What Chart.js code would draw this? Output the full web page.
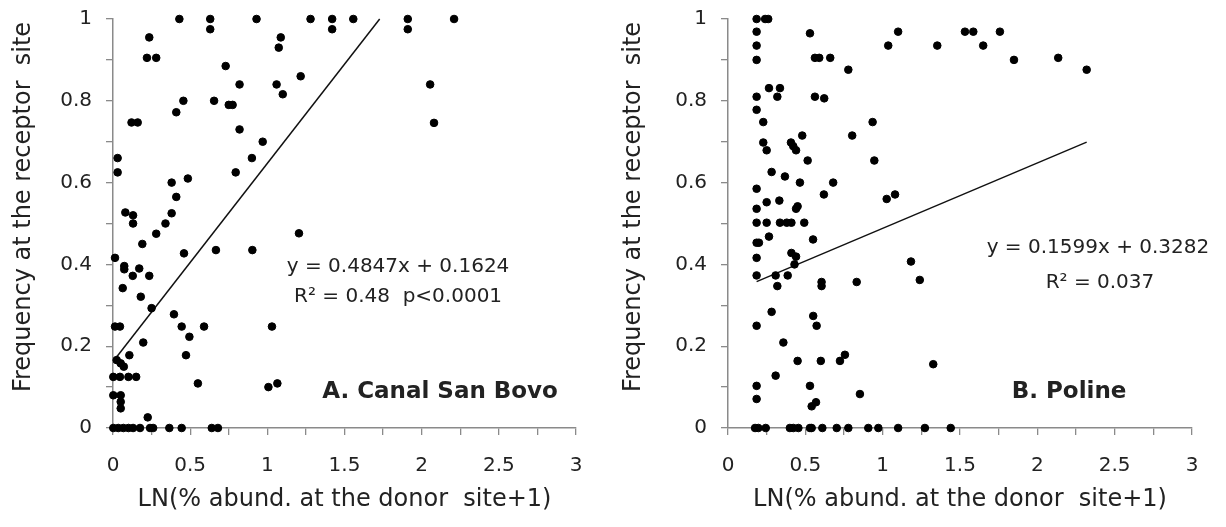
<!DOCTYPE html>
<html>
<head>
<meta charset="utf-8">
<script src="https://cdn.jsdelivr.net/npm/chart.js@4.4.1/dist/chart.umd.min.js"></script>
<style>
    html, body { margin: 0; padding: 0; background: #fff; }
    #wrap { position: relative; width: 1226px; height: 527px; }
    .panel { position: absolute; top: 0; width: 613px; height: 527px; }
    #left  { left: 0; }
    #right { left: 613px; }
</style>
</head>
<body>
<div id="wrap">
    <div class="panel" id="left"><canvas id="chartA" width="613" height="527"></canvas></div>
    <div class="panel" id="right"><canvas id="chartB" width="613" height="527"></canvas></div>
</div>
<script>
// ── Data: A. Canal San Bovo ────────────────────────────────────────────────
const canalX = [
    0.43, 0.63, 0.63, 0.93, 1.28, 1.42, 1.42, 1.557, 1.91, 1.91, 2.21, 2.055, 2.08,
    0.235, 0.22, 0.28, 1.087, 1.074, 0.73, 0.82, 1.06, 1.10, 1.216, 0.456, 0.41,
    0.655, 0.75, 0.775, 0.12, 0.16, 0.82, 0.97, 0.03, 0.03, 0.90, 0.795, 0.38, 0.41,
    0.485, 0.38, 0.08, 0.13, 0.13, 0.34, 0.28, 0.19, 1.205, 0.013, 0.46, 0.667,
    0.903, 0.073, 0.073, 0.128, 0.17, 0.235, 0.063, 0.18, 0.25, 0.395, 0.445, 0.495,
    0.59, 1.03, 0.013, 0.045, 0.196, 0.473, 0.106, 0.024, 0.05, 0.07, 0.002, 0.045,
    0.10, 0.15, 0.55, 1.007, 1.065, 0.002, 0.05, 0.05, 0.05, 0.225,
    0.002, 0.034, 0.067, 0.10, 0.13, 0.175, 0.24, 0.26, 0.365, 0.445, 0.64, 0.68,
];
const canalY = [
    1, 1, 0.975, 1, 1, 1, 0.975, 1, 1, 0.975, 1, 0.84, 0.746,
    0.955, 0.905, 0.905, 0.955, 0.93, 0.885, 0.84, 0.84, 0.816, 0.86, 0.80, 0.772,
    0.80, 0.79, 0.79, 0.747, 0.747, 0.73, 0.70, 0.66, 0.625, 0.66, 0.625, 0.60, 0.565,
    0.61, 0.525, 0.527, 0.52, 0.50, 0.50, 0.475, 0.45, 0.476, 0.416, 0.427, 0.435,
    0.435, 0.396, 0.388, 0.372, 0.39, 0.372, 0.342, 0.321, 0.293, 0.278, 0.248, 0.223,
    0.248, 0.248, 0.248, 0.248, 0.209, 0.178, 0.178, 0.166, 0.158, 0.15, 0.125, 0.125,
    0.125, 0.125, 0.109, 0.10, 0.109, 0.08, 0.08, 0.064, 0.048, 0.026,
    0, 0, 0, 0, 0, 0, 0, 0, 0, 0, 0, 0,
];
const canalSlope = 0.4847;
const canalIntercept = 0.1624;
const canalFitX = [0.002, 1.728];

// ── Data: B. Poline ────────────────────────────────────────────────────────
const polineX = [
    0.185, 0.24, 0.26, 0.185, 0.185, 0.185, 0.53, 1.10, 1.036, 1.353,
    0.562, 0.59, 0.661, 0.778, 0.265, 0.336, 0.319, 0.185, 0.562, 0.622,
    0.185, 0.228, 0.935, 0.228, 0.25, 0.407, 0.422, 0.44, 0.48, 0.803,
    0.515, 0.946, 0.282, 0.368, 0.465, 0.68, 0.185, 0.62, 1.026, 1.08,
    0.25, 0.332, 0.185, 0.44, 0.45, 0.185, 0.25, 0.336, 0.38, 0.41, 0.493,
    0.265, 0.55, 0.185, 0.2, 0.41, 0.44, 0.185, 0.43, 0.185, 0.308, 0.386,
    0.319, 0.605, 0.605, 0.832, 1.183, 1.24, 0.282, 0.551, 0.573, 0.185,
    0.358, 0.45, 0.60, 0.724, 0.756, 1.327, 0.308, 0.185, 0.185, 0.53,
    0.853, 0.541, 0.569,
    0.175, 0.196, 0.244, 0.40, 0.422, 0.455, 0.53, 0.541, 0.61, 0.703,
    0.778, 0.907, 0.972, 1.10, 1.273, 1.44,
    1.532, 1.586, 1.65, 1.758, 1.849, 2.135, 2.319,
];
const polineY = [
    1, 1, 1, 0.969, 0.935, 0.90, 0.965, 0.969, 0.935, 0.935,
    0.905, 0.905, 0.905, 0.876, 0.831, 0.831, 0.81, 0.81, 0.81, 0.806,
    0.778, 0.748, 0.748, 0.698, 0.679, 0.698, 0.689, 0.679, 0.715, 0.715,
    0.654, 0.654, 0.626, 0.615, 0.60, 0.60, 0.585, 0.571, 0.56, 0.571,
    0.552, 0.556, 0.536, 0.536, 0.542, 0.502, 0.502, 0.502, 0.502, 0.502, 0.502,
    0.468, 0.461, 0.453, 0.453, 0.428, 0.419, 0.416, 0.40, 0.373, 0.373, 0.373,
    0.347, 0.357, 0.347, 0.357, 0.407, 0.362, 0.284, 0.274, 0.25, 0.25,
    0.209, 0.164, 0.164, 0.164, 0.179, 0.156, 0.128, 0.103, 0.071, 0.103,
    0.083, 0.053, 0.063,
    0, 0, 0, 0, 0, 0, 0, 0, 0, 0,
    0, 0, 0, 0, 0, 0,
    0.969, 0.969, 0.935, 0.969, 0.90, 0.905, 0.876,
];
const polineSlope = 0.1599;
const polineIntercept = 0.3282;
const polineFitX = [0.185, 2.319];

// Axis ticks
const xTickStep = 0.25;   // tick marks; labels every 0.5
const yTickStep = 0.1;    // tick marks; labels every 0.2

const TEXT = '#222222';
const AXIS = '#8a8a8a';
const FONT = '"DejaVu Sans", "Liberation Sans", sans-serif';

function toPoints(xs, ys) {
    return xs.map((x, i) => ({ x, y: ys[i] }));
}

function fitPoints(fitX, slope, intercept) {
    return fitX.map(x => ({ x, y: slope * x + intercept }));
}

function isMultiple(v, step) {
    const r = v / step;
    return Math.abs(r - Math.round(r)) < 1e-6;
}

/**
 * Draws free text (trend equations, panel title, axis titles) at data
 * coordinates or canvas coordinates.
 */
const notesPlugin = {
    id: 'notes',
    afterDraw(chart, args, opts) {
        const ctx = chart.ctx;
        const { x: xs, y: ys } = chart.scales;
        ctx.save();
        ctx.fillStyle = TEXT;
        ctx.textAlign = 'center';
        ctx.textBaseline = 'middle';
        (opts.items || []).forEach(n => {
            ctx.font = n.font;
            ctx.fillText(n.text, xs.getPixelForValue(n.x), ys.getPixelForValue(n.y));
        });
        // axis titles
        const a = chart.chartArea;
        ctx.font = opts.titleFont;
        ctx.fillText(opts.xTitle, (a.left + a.right) / 2, opts.xTitleY);
        ctx.translate(opts.yTitleX, opts.yTitleY);
        ctx.rotate(-Math.PI / 2);
        ctx.fillText(opts.yTitle, 0, 0);
        ctx.restore();
    },
};

function makePanel(canvasId, cfg) {
    const tickFont = { family: FONT, size: 20 };
    return new Chart(document.getElementById(canvasId), {
        type: 'scatter',
        data: {
            datasets: [
                {
                    data: toPoints(cfg.xs, cfg.ys),
                    backgroundColor: '#000',
                    borderColor: '#000',
                    pointRadius: 3.8,
                    pointHoverRadius: 3.8,
                    clip: false,
                },
                {
                    data: fitPoints(cfg.fitX, cfg.slope, cfg.intercept),
                    showLine: true,
                    borderColor: '#111',
                    borderWidth: 1.5,
                    pointRadius: 0,
                    fill: false,
                    clip: false,
                },
            ],
        },
        options: {
            responsive: false,
            animation: false,
            events: [],
            layout: { padding: { top: 19, right: cfg.padRight, bottom: 0, left: 0 } },
            plugins: {
                legend: { display: false },
                tooltip: { enabled: false },
                notes: {
                    items: cfg.notes,
                    titleFont: `24px ${FONT}`,
                    xTitle: 'LN(% abund. at the donor  site+1)',
                    xTitleY: 500,
                    yTitle: 'Frequency at the receptor  site',
                    yTitleX: cfg.yTitleX,
                    yTitleY: 207,
                },
            },
            scales: {
                x: {
                    type: 'linear',
                    min: 0,
                    max: 3,
                    afterFit: s => { s.height = 99; },
                    border: { color: AXIS, width: 1.5 },
                    grid: { drawOnChartArea: false, drawTicks: true, tickLength: 7, color: AXIS, lineWidth: 1.3 },
                    ticks: {
                        stepSize: xTickStep,
                        autoSkip: false,
                        maxRotation: 0,
                        padding: 19,
                        color: TEXT,
                        font: tickFont,
                        callback: v => isMultiple(v, 0.5) ? String(Math.round(v * 10) / 10) : '',
                    },
                },
                y: {
                    type: 'linear',
                    min: 0,
                    max: 1,
                    afterFit: s => {
                        s.width = cfg.yWidth;
                        // keep label overflow from pushing the plot down
                        s.paddingTop = 10;
                        s.paddingBottom = 10;
                    },
                    border: { color: AXIS, width: 1.5 },
                    grid: { drawOnChartArea: false, drawTicks: true, tickLength: 7, color: AXIS, lineWidth: 1.3 },
                    ticks: {
                        stepSize: yTickStep,
                        autoSkip: false,
                        padding: 14,
                        color: TEXT,
                        font: tickFont,
                        callback: v => isMultiple(v, 0.2) ? String(Math.round(v * 10) / 10) : '',
                    },
                },
            },
        },
        plugins: [notesPlugin],
    });
}

makePanel('chartA', {
    xs: canalX, ys: canalY,
    fitX: canalFitX, slope: canalSlope, intercept: canalIntercept,
    yWidth: 113, padRight: 37, yTitleX: 24,
    notes: [
        { text: 'y = 0.4847x + 0.1624', x: 1.847, y: 0.394, font: `20px ${FONT}` },
        { text: 'R² = 0.48  p<0.0001', x: 1.847, y: 0.3215, font: `20px ${FONT}` },
        { text: 'A. Canal San Bovo', x: 2.119, y: 0.088, font: `bold 23px ${FONT}` },
    ],
});

makePanel('chartB', {
    xs: polineX, ys: polineY,
    fitX: polineFitX, slope: polineSlope, intercept: polineIntercept,
    yWidth: 115, padRight: 34, yTitleX: 21,
    notes: [
        { text: 'y = 0.1599x + 0.3282', x: 2.392, y: 0.441, font: `20px ${FONT}` },
        { text: 'R² = 0.037', x: 2.405, y: 0.356, font: `20px ${FONT}` },
        { text: 'B. Poline', x: 2.205, y: 0.088, font: `bold 23px ${FONT}` },
    ],
});
</script>
</body>
</html>
